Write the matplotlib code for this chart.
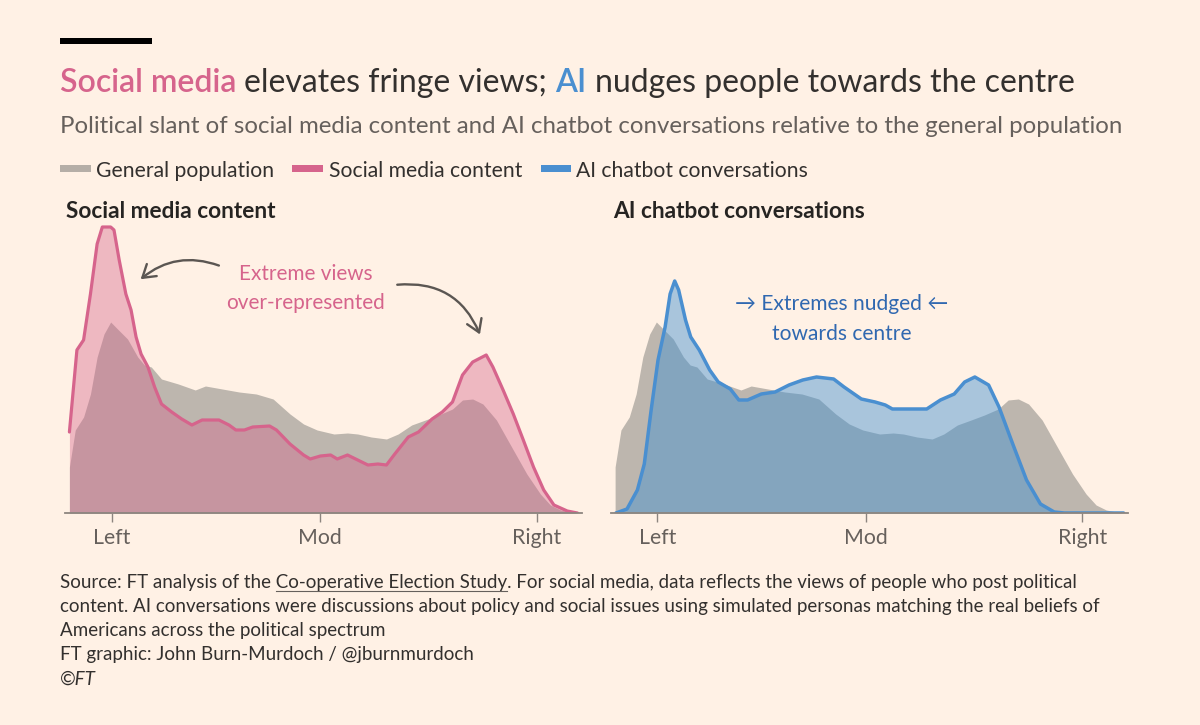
import matplotlib
matplotlib.use("Agg")
import matplotlib.pyplot as plt
from matplotlib.patches import FancyArrowPatch, Rectangle
from matplotlib.lines import Line2D

# ---------------- data ----------------
# political slant scale: Left tick = -1, Mod = 0, Right tick = 1.04
TICK_POS = [-1.0, 0.0, 1.04]
TICK_LABELS = ["Left", "Mod", "Right"]

GEN_X = [-1.203, -1.175, -1.135, -1.102, -1.070, -1.037, -1.005, -0.972, -0.924, -0.875,
         -0.843, -0.810, -0.761, -0.680, -0.599, -0.550, -0.469, -0.388, -0.306, -0.225,
         -0.144, -0.079, -0.014, 0.067, 0.132, 0.181, 0.246, 0.319, 0.375, 0.440,
         0.506, 0.570, 0.636, 0.684, 0.733, 0.782, 0.847, 0.928, 0.993, 1.058,
         1.106, 1.155, 1.204, 1.236]
GEN_Y = [0.46, 0.83, 0.96, 1.19, 1.56, 1.79, 1.91, 1.84, 1.74, 1.56,
         1.48, 1.46, 1.34, 1.29, 1.23, 1.27, 1.24, 1.21, 1.19, 1.14,
         0.99, 0.89, 0.83, 0.79, 0.80, 0.79, 0.76, 0.74, 0.79, 0.88,
         0.93, 0.98, 1.04, 1.13, 1.14, 1.09, 0.93, 0.63, 0.39, 0.19,
         0.08, 0.03, 0.01, 0.0]

SOC_X = [-1.203, -1.167, -1.135, -1.102, -1.070, -1.045, -1.005, -0.989, -0.964, -0.932,
         -0.907, -0.883, -0.859, -0.826, -0.794, -0.761, -0.712, -0.664, -0.615, -0.566,
         -0.485, -0.437, -0.404, -0.363, -0.323, -0.242, -0.209, -0.144, -0.079, -0.047,
         0.002, 0.051, 0.083, 0.132, 0.181, 0.230, 0.278, 0.319, 0.359, 0.424,
         0.473, 0.538, 0.587, 0.636, 0.684, 0.733, 0.798, 0.830, 0.879, 0.928,
         0.976, 1.025, 1.074, 1.123, 1.187, 1.236]
SOC_Y = [0.81, 1.63, 1.73, 2.19, 2.69, 2.86, 2.86, 2.83, 2.53, 2.19,
         2.03, 1.76, 1.59, 1.46, 1.26, 1.09, 1.01, 0.94, 0.88, 0.93,
         0.93, 0.88, 0.83, 0.83, 0.86, 0.87, 0.83, 0.69, 0.58, 0.54,
         0.57, 0.58, 0.54, 0.58, 0.53, 0.48, 0.49, 0.48, 0.59, 0.76,
         0.81, 0.94, 1.01, 1.11, 1.38, 1.51, 1.58, 1.46, 1.23, 0.99,
         0.73, 0.46, 0.23, 0.08, 0.02, 0.0]

AI_X = [-1.199, -1.146, -1.096, -1.063, -1.030, -0.997, -0.963, -0.939, -0.917, -0.898,
        -0.865, -0.840, -0.799, -0.749, -0.708, -0.650, -0.609, -0.567, -0.501, -0.435,
        -0.368, -0.302, -0.236, -0.154, -0.104, -0.021, 0.045, 0.094, 0.128, 0.210,
        0.293, 0.359, 0.425, 0.475, 0.524, 0.590, 0.640, 0.706, 0.772, 0.839,
        0.905, 0.954, 1.238]
AI_Y = [0.0, 0.04, 0.23, 0.49, 1.03, 1.53, 1.86, 2.19, 2.32, 2.23,
        1.93, 1.76, 1.63, 1.43, 1.31, 1.24, 1.13, 1.13, 1.19, 1.21,
        1.28, 1.33, 1.36, 1.34, 1.26, 1.14, 1.11, 1.08, 1.04, 1.04,
        1.04, 1.13, 1.19, 1.31, 1.36, 1.28, 1.06, 0.69, 0.33, 0.09,
        0.01, 0.0, 0.0]

TITLE_PARTS = [("Social media ", "pink", "semibold"),
               ("elevates fringe views; ", "dark", "normal"),
               ("AI ", "blue", "semibold"),
               ("nudges people towards the centre", "dark", "normal")]
SUBTITLE = ("Political slant of social media content and AI chatbot conversations "
            "relative to the general population")
LEGEND_LABELS = ["General population", "Social media content", "AI chatbot conversations"]
PANEL_TITLES = ["Social media content", "AI chatbot conversations"]
FOOTER_PRE = "Source: FT analysis of the "
FOOTER_LINK = "Co-operative Election Study"
FOOTER_LINES = [
    "Source: FT analysis of the Co-operative Election Study. For social media, data reflects "
    "the views of people who post political",
    "content. AI conversations were discussions about policy and social issues using "
    "simulated personas matching the real beliefs of",
    "Americans across the political spectrum",
    "FT graphic: John Burn-Murdoch / @jburnmurdoch",
]
COPYRIGHT = "©FT"

# ---------------- style ----------------
BG = "#fff1e5"
DARK = "#33302e"
MID = "#66605c"
GREY_FILL = "#bdb6ae"
PINK = "#d6648c"
BLUE = "#4a8fd0"
BLUE_FILL = "#4091d3"
BLUE_TEXT = "#3068b0"
AXIS = "#8c857f"
ARROW = "#5b5652"
COLORS = {"pink": PINK, "blue": BLUE, "dark": DARK}

W, H = 1200, 725
plt.rcParams["font.family"] = ["Lato", "DejaVu Sans"]
fig = plt.figure(figsize=(W / 100, H / 100), dpi=100)
fig.patch.set_facecolor(BG)
R = fig.canvas.get_renderer()


def ink_w(s, size, **kw):
    t = fig.text(0, 0, s, fontsize=size, **kw)
    w = t.get_window_extent(renderer=R).width
    t.remove()
    return w


def adv(s, size, **kw):
    return ink_w("I" + s + "I", size, **kw) - ink_w("II", size, **kw)


def fit(s, target, **kw):
    return 20 * target / ink_w(s, 20, **kw)


def ftext(px, py, s, **kw):
    return fig.text(px / W, 1 - py / H, s, va="baseline", **kw)


# top rule
fig.add_artist(Rectangle((60 / W, 1 - 43.5 / H), 92 / W, 6 / H,
                         transform=fig.transFigure, color="black", lw=0))

# title (mixed colours)
tot20 = sum(adv(p, 20, fontweight=w) for p, c, w in TITLE_PARTS[:-1]) + \
    ink_w(TITLE_PARTS[-1][0], 20, fontweight=TITLE_PARTS[-1][2])
ts = 20 * 1016 / tot20
x = 60
for p, c, w in TITLE_PARTS:
    ftext(x, 91.7, p.strip(), fontsize=ts, fontweight=w, color=COLORS[c])
    x += adv(p, ts, fontweight=w)

# subtitle
ftext(60, 133.3, SUBTITLE, fontsize=fit(SUBTITLE, 1063), color=MID)

# legend
ls = fit(LEGEND_LABELS[0], 178)
for sx, tx, col, lab in [(60, 96, "#b5aea7", LEGEND_LABELS[0]),
                         (292, 328.6, PINK, LEGEND_LABELS[1]),
                         (540.6, 576.2, BLUE, LEGEND_LABELS[2])]:
    fig.add_artist(Rectangle((sx / W, 1 - 171.7 / H), 30.5 / W, 6.5 / H,
                             transform=fig.transFigure, color=col, lw=0))
    ftext(tx, 176.7, lab, fontsize=ls, color=DARK)

# panel titles
ps = fit(PANEL_TITLES[0], 210, fontweight="bold")
ftext(66, 218.5, PANEL_TITLES[0], fontsize=ps, fontweight="bold", color="#262422")
ftext(613, 218.5, PANEL_TITLES[1], fontsize=ps, fontweight="bold", color="#262422")

# axes
XL = (-1.225, 1.26)
YTOP = 3.03
tick_fs = fit("Left", 37.4)


def make_ax(mod_px):
    x0 = mod_px + 208.3 * XL[0]
    x1 = mod_px + 208.3 * XL[1]
    ax = fig.add_axes([x0 / W, 1 - 513 / H, (x1 - x0) / W, 303 / H])
    ax.set_facecolor("none")
    ax.set_xlim(*XL)
    ax.set_ylim(0, YTOP)
    for s in ["top", "left", "right"]:
        ax.spines[s].set_visible(False)
    ax.spines["bottom"].set_color(AXIS)
    ax.spines["bottom"].set_linewidth(1.3)
    ax.spines["bottom"].set_zorder(6)
    ax.set_yticks([])
    ax.set_xticks(TICK_POS, TICK_LABELS)
    ax.tick_params(axis="x", length=6.5, width=1, color=AXIS, labelcolor=MID,
                   labelsize=tick_fs, pad=4)
    return ax


ax1 = make_ax(320)
ax1.fill_between(GEN_X, 0, GEN_Y, color=GREY_FILL, lw=0, zorder=1)
ax1.fill_between(SOC_X, 0, SOC_Y, color=PINK, alpha=0.4, lw=0, zorder=2)
ax1.plot(SOC_X, SOC_Y, color=PINK, lw=2.3, solid_joinstyle="round",
         solid_capstyle="round", zorder=3)

ax2 = make_ax(865.7)
ax2.fill_between(GEN_X, 0, GEN_Y, color=GREY_FILL, lw=0, zorder=1)
ax2.fill_between(AI_X, 0, AI_Y, color=BLUE_FILL, alpha=0.45, lw=0, zorder=2)
ax2.plot(AI_X, AI_Y, color=BLUE, lw=2.5, solid_joinstyle="round",
         solid_capstyle="round", zorder=3)

# annotations
afs = fit("Extreme views", 134)
ftext(305.5, 279.5, "Extreme views", fontsize=afs, color=PINK, ha="center")
ftext(305.5, 309.3, "over-represented", fontsize=afs, color=PINK, ha="center")

bfs = fit("towards centre", 139.5)
ftext(841.5, 310, "→ Extremes nudged ←", fontsize=bfs, color=BLUE_TEXT, ha="center",
      family=["Lato", "DejaVu Sans"])
ftext(841.5, 340, "towards centre", fontsize=bfs, color=BLUE_TEXT, ha="center")


def farrow(p0, p1, rad):
    a = FancyArrowPatch((p0[0] / W, 1 - p0[1] / H), (p1[0] / W, 1 - p1[1] / H),
                        transform=fig.transFigure, arrowstyle="->,head_length=0.55,head_width=0.35",
                        connectionstyle=f"arc3,rad={rad}", color=ARROW, lw=1.7,
                        mutation_scale=16, zorder=10)
    fig.add_artist(a)


farrow((221.5, 266.5), (138.5, 281), 0.3)
farrow((394.5, 285), (481, 337), -0.38)

# footer
fs = fit(FOOTER_LINES[1], 1039)
base = [588.3, 612.3, 636.3, 660.3, 684.3]
for i, line in enumerate(FOOTER_LINES):
    ftext(60, base[i], line, fontsize=fs, color=DARK)
ftext(60, base[4], COPYRIGHT, fontsize=fs, color=DARK, fontstyle="italic")
ux0 = 60 + adv(FOOTER_PRE, fs)
ux1 = ux0 + ink_w(FOOTER_LINK, fs)
fig.add_artist(Line2D([ux0 / W, ux1 / W], [1 - (base[0] + 3) / H] * 2,
                      transform=fig.transFigure, color=MID, lw=0.8))

fig.savefig("out.png", dpi=100, facecolor=BG)
